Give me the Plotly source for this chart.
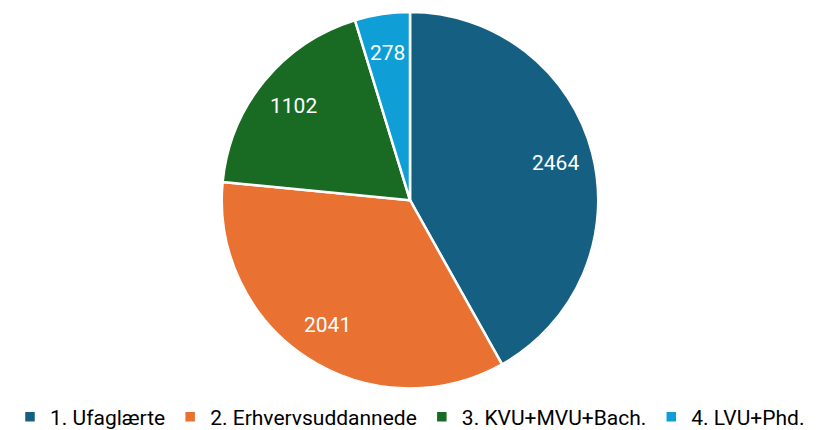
import math
import plotly.graph_objects as go

categories = ["1. Ufaglærte", "2. Erhvervsuddannede", "3. KVU+MVU+Bach.", "4. LVU+Phd."]
values = [2464, 2041, 1102, 278]
colors = ["#156082", "#E97132", "#196B24", "#0F9ED5"]

W, H = 820, 430
# pie placement in figure pixels (top-left origin)
CX, CY, R_PX = 402, 194, 188
DOMAIN_HALF = 190
LABEL_FRAC = 0.8
LEGEND_Y_PX = 413

dom_x = [(CX - DOMAIN_HALF) / W, (CX + DOMAIN_HALF) / W]
dom_y = [(H - (CY + DOMAIN_HALF)) / H, (H - (CY - DOMAIN_HALF)) / H]

fig = go.Figure(go.Pie(
    labels=categories,
    values=values,
    sort=False,
    direction="clockwise",
    rotation=0,
    marker=dict(colors=colors, line=dict(color="white", width=2.5)),
    textinfo="none",
    hole=0,
    domain=dict(x=dom_x, y=dom_y),
))

total = sum(values)
cum = 0
annotations = []
for v in values:
    mid = (cum + v / 2) / total * 2 * math.pi
    cum += v
    dx = math.sin(mid) * R_PX * LABEL_FRAC
    dy = math.cos(mid) * R_PX * LABEL_FRAC
    annotations.append(dict(
        x=(CX + dx) / W, y=(H - CY + dy) / H, xref="paper", yref="paper",
        text=str(v), showarrow=False,
        font=dict(color="white", size=21, family="Roboto"),
        xanchor="center", yanchor="middle",
    ))

fig.update_layout(
    width=W, height=H,
    margin=dict(l=0, r=0, t=0, b=0),
    paper_bgcolor="white",
    plot_bgcolor="white",
    showlegend=True,
    annotations=annotations,
    legend=dict(
        orientation="h",
        x=CX / W, xanchor="center",
        y=(H - LEGEND_Y_PX) / H, yanchor="middle",
        font=dict(size=21, family="Roboto", color="#000000"),
        itemclick=False,
    ),
)

fig.write_html("out.html")
